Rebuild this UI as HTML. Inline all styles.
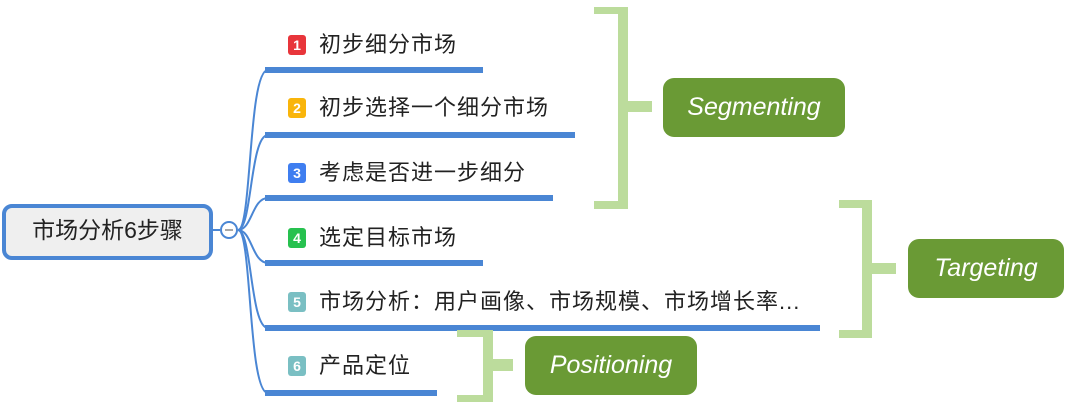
<!DOCTYPE html>
<html><head><meta charset="utf-8"><style>
body{margin:0;width:1080px;height:408px;background:#fff;overflow:hidden;position:relative;font-family:"Liberation Sans","Noto Sans CJK SC",sans-serif}
.t{position:absolute;font-size:22px;letter-spacing:1px;color:#222;line-height:24px;white-space:nowrap}
.b{display:inline-block;width:18px;height:20px;border-radius:3px;color:#fff;font-size:14px;font-weight:bold;letter-spacing:0;text-align:center;line-height:20px;margin-right:13px;vertical-align:2px}
.g{position:absolute;background:#6a9a35;border-radius:11px;color:#fff;font-style:italic;font-size:25px;display:flex;align-items:center;justify-content:center}
</style></head><body>
<svg width="1080" height="408" style="position:absolute;left:0;top:0">
<g fill="none" stroke="#4a86d4" stroke-width="2">
<path d="M238 230 C252 230 248 70 268 70"/>
<path d="M238 230 C252 230 250 135 268 135"/>
<path d="M238 230 C252 230 252 198 268 198"/>
<path d="M238 230 C252 230 252 263 268 263"/>
<path d="M238 230 C252 230 250 328 268 328"/>
<path d="M238 230 C252 230 248 393 268 393"/>
<path d="M213 230 H220"/>
</g>
<g fill="#4a86d4">
<rect x="265" y="67" width="218" height="6"/>
<rect x="265" y="132" width="310" height="6"/>
<rect x="265" y="195" width="288" height="6"/>
<rect x="265" y="260" width="218" height="6"/>
<rect x="265" y="325" width="555" height="6"/>
<rect x="265" y="390" width="172" height="6"/>
</g>
<rect x="4" y="206" width="207" height="52" rx="8" fill="#efefef" stroke="#4a86d4" stroke-width="4"/>
<circle cx="229" cy="230" r="8" fill="#fff" stroke="#4a86d4" stroke-width="2"/>
<path d="M225 230 H233" stroke="#888" stroke-width="1.5"/>
<g fill="#bcdc9c">
<rect x="594" y="7" width="34" height="7"/><rect x="618" y="7" width="10" height="202"/><rect x="594" y="201" width="34" height="8"/><rect x="628" y="101" width="24" height="11"/>
<rect x="839" y="200" width="33" height="8"/><rect x="862" y="200" width="10" height="138"/><rect x="839" y="330" width="33" height="8"/><rect x="872" y="263" width="24" height="11"/>
<rect x="457" y="330" width="36" height="7"/><rect x="483" y="330" width="10" height="72"/><rect x="457" y="395" width="36" height="7"/><rect x="493" y="359" width="20" height="12"/>
</g>
</svg>
<div class="t" style="left:0;top:218px;width:215px;text-align:center;font-size:23px;letter-spacing:0">市场分析6步骤</div>
<div class="t" style="left:288px;top:33px"><span class="b" style="background:#e8353b">1</span>初步细分市场</div>
<div class="t" style="left:288px;top:96px"><span class="b" style="background:#f9b50b">2</span>初步选择一个细分市场</div>
<div class="t" style="left:288px;top:161px"><span class="b" style="background:#3f7ef0">3</span>考虑是否进一步细分</div>
<div class="t" style="left:288px;top:226px"><span class="b" style="background:#27c14f">4</span>选定目标市场</div>
<div class="t" style="left:288px;top:290px"><span class="b" style="background:#7abfc3">5</span>市场分析：用户画像、市场规模、市场增长率...</div>
<div class="t" style="left:288px;top:354px"><span class="b" style="background:#7abfc3">6</span>产品定位</div>
<div class="g" style="left:663px;top:78px;width:182px;height:59px">Segmenting</div>
<div class="g" style="left:908px;top:239px;width:156px;height:59px">Targeting</div>
<div class="g" style="left:525px;top:336px;width:172px;height:59px">Positioning</div>
</body></html>
